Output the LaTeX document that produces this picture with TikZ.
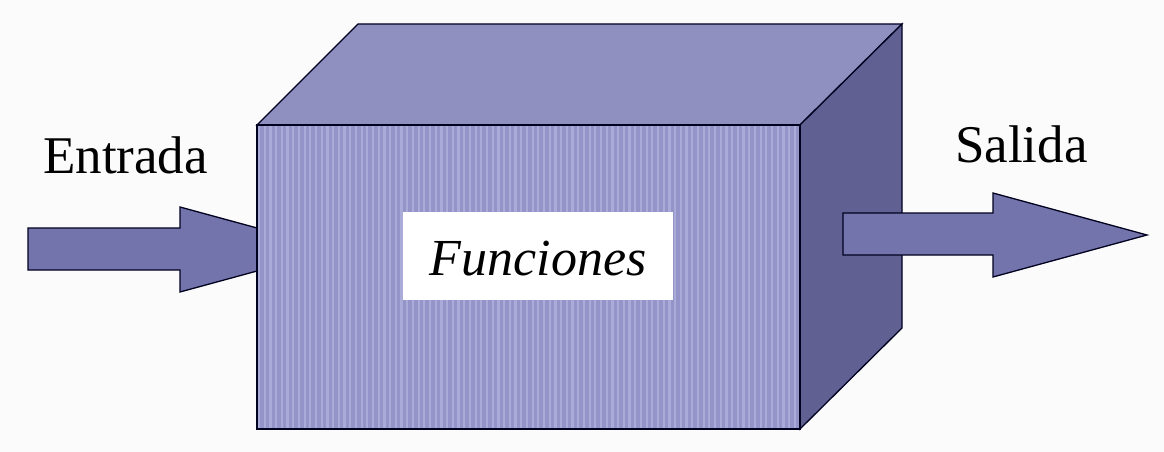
\documentclass[tikz,border=0pt]{standalone}
\usepackage{fontspec}
\setmainfont{Liberation Serif}
\newfontfamily\timesf{Liberation Serif}
\begin{document}
\begin{tikzpicture}[x=1pt,y=-1pt,
  edge/.style={draw=black!80!blue!60!black, line width=1.3pt, line join=miter},
  arrowfill/.style={edge, fill=arrowcol},
  lbl/.style={inner sep=0pt, anchor=base west, font=\timesf\fontsize{53}{60}\selectfont},
  ]
\definecolor{bgcol}{HTML}{FBFBFB}
\definecolor{frontcol}{HTML}{9494C8}
\definecolor{stripecol}{HTML}{ABABDA}
\definecolor{topcol}{HTML}{9090C0}
\definecolor{sidecol}{HTML}{606092}
\definecolor{arrowcol}{HTML}{7474AC}
\fill[bgcol] (0,0) rectangle (1164,452);
\useasboundingbox (0,0) rectangle (1164,452);
% corners of the box
\coordinate (ftl) at (257,125);
\coordinate (ftr) at (800,125);
\coordinate (fbr) at (800,429);
\coordinate (fbl) at (257,429);
\coordinate (btl) at (358,24);
\coordinate (btr) at (902,24);
\coordinate (bbr) at (902,328);
% input arrow (behind the box)
\draw[arrowfill] (28,228) -- (180,228) -- (180,207) -- (336,249.5) -- (180,292) -- (180,270) -- (28,270) -- cycle;
% top and side faces
\draw[edge, fill=topcol] (ftl) -- (btl) -- (btr) -- (ftr) -- cycle;
\draw[edge, fill=sidecol] (ftr) -- (btr) -- (bbr) -- (fbr) -- cycle;
% front face with stripes
\fill[frontcol] (ftl) rectangle (fbr);
\begin{scope}
  \clip (ftl) rectangle (fbr);
  \foreach \i in {0,...,96} {
    \draw[stripecol, line width=2.2pt] (259+\i*5.7,125) -- (259+\i*5.7,429);
  }
\end{scope}
\draw[edge] (ftl) rectangle (fbr);
% output arrow
\draw[arrowfill] (843,213) -- (993,213) -- (993,193) -- (1147,235) -- (993,277) -- (993,255) -- (843,255) -- cycle;
% label box
\node[fill=white, minimum width=270pt, minimum height=88pt, inner sep=0pt] (fbox) at (538,256) {};
\node[inner sep=0pt, anchor=base, font=\timesf\fontsize{52}{60}\selectfont\itshape] (func) at (538,275) {Funciones};
\node[lbl] (entrada) at (43,173) {Entrada};
\node[lbl] (salida) at (955,162) {Salida};
\end{tikzpicture}
\end{document}
